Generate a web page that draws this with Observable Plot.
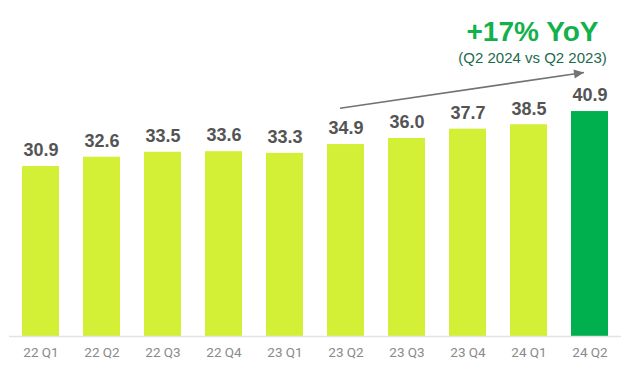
<!DOCTYPE html>
<html>
<head>
<meta charset="utf-8">
<script src="https://cdn.jsdelivr.net/npm/d3@7"></script>
<script src="https://cdn.jsdelivr.net/npm/@observablehq/plot@0.6"></script>
<style>
  html, body { margin: 0; padding: 0; background: #fff; }
  #chart svg { display: block; }
</style>
</head>
<body>
<div id="chart"></div>
<script>
const quarters = ["22 Q1", "22 Q2", "22 Q3", "22 Q4", "23 Q1", "23 Q2", "23 Q3", "23 Q4", "24 Q1", "24 Q2"];
const values = [30.9, 32.6, 33.5, 33.6, 33.3, 34.9, 36.0, 37.7, 38.5, 40.9];
const highlight = ["24 Q2"];
const headline = ["+17% YoY"];
const subline = ["(Q2 2024 vs Q2 2023)"];
// trend arrow endpoints in data terms
const arrowFrom = ["23 Q2", 41.5];
const arrowTo = ["24 Q2", 48.0];

const data = quarters.map((q, i) => ({ q, v: values[i], hi: highlight.includes(q) }));

const LIME = "#d3ef36";
const GREEN = "#00b04f";

const chart = Plot.plot({
  width: 640,
  height: 374,
  marginTop: 61,
  marginBottom: 38,
  marginLeft: 9,
  marginRight: 19,
  style: { background: "#fff", overflow: "visible" },
  x: {
    domain: quarters,
    paddingInner: 0.4,
    paddingOuter: 0.185,
    axis: null
  },
  y: { domain: [0, 50], axis: null },
  marks: [
    Plot.barY(data, { x: "q", y: "v", fill: d => d.hi ? GREEN : LIME }),
    Plot.ruleY([0], { stroke: "#e3e3e3", strokeWidth: 1.5 }),
    Plot.axisX({
      tickSize: 0, tickPadding: 11, label: null,
      fontSize: 13.5, fill: "#8a8a8a", fontFamily: "Roboto, sans-serif"
    }),
    Plot.text(data, {
      x: "q", y: "v", text: d => d3.format(".1f")(d.v),
      dy: -16, fill: "#545454", fontSize: 18, fontWeight: "bold",
      fontFamily: "Liberation Sans, Arial, sans-serif"
    }),
    Plot.link([{ x1: arrowFrom[0], y1: arrowFrom[1], x2: arrowTo[0], y2: arrowTo[1] }], {
      x1: "x1", y1: "y1", x2: "x2", y2: "y2", dx: -6,
      stroke: "#737373", strokeWidth: 1.6,
      markerEnd: (color) => {
        const m = d3.create("svg:marker")
          .attr("viewBox", "-10 -5 10 10")
          .attr("markerWidth", 10)
          .attr("markerHeight", 10)
          .attr("markerUnits", "userSpaceOnUse")
          .attr("orient", "auto")
          .attr("overflow", "visible");
        m.append("path").attr("d", "M-10,-4.5L0,0L-10,4.5Z").attr("fill", "#737373").attr("stroke", "none");
        return m.node();
      }
    }),
    Plot.text(headline, {
      text: d => d, frameAnchor: "top-right", lineAnchor: "middle", dx: -89, dy: -29,
      textAnchor: "middle", fill: "#13b14b", fontSize: 28, fontWeight: "bold",
      fontFamily: "Liberation Sans, Arial, sans-serif"
    }),
    Plot.text(subline, {
      text: d => d, frameAnchor: "top-right", lineAnchor: "middle", dx: -89, dy: -3,
      textAnchor: "middle", fill: "#1e6a4c", fontSize: 15,
      fontFamily: "Liberation Sans, Arial, sans-serif"
    })
  ]
});

document.getElementById("chart").append(chart);
</script>
</body>
</html>
